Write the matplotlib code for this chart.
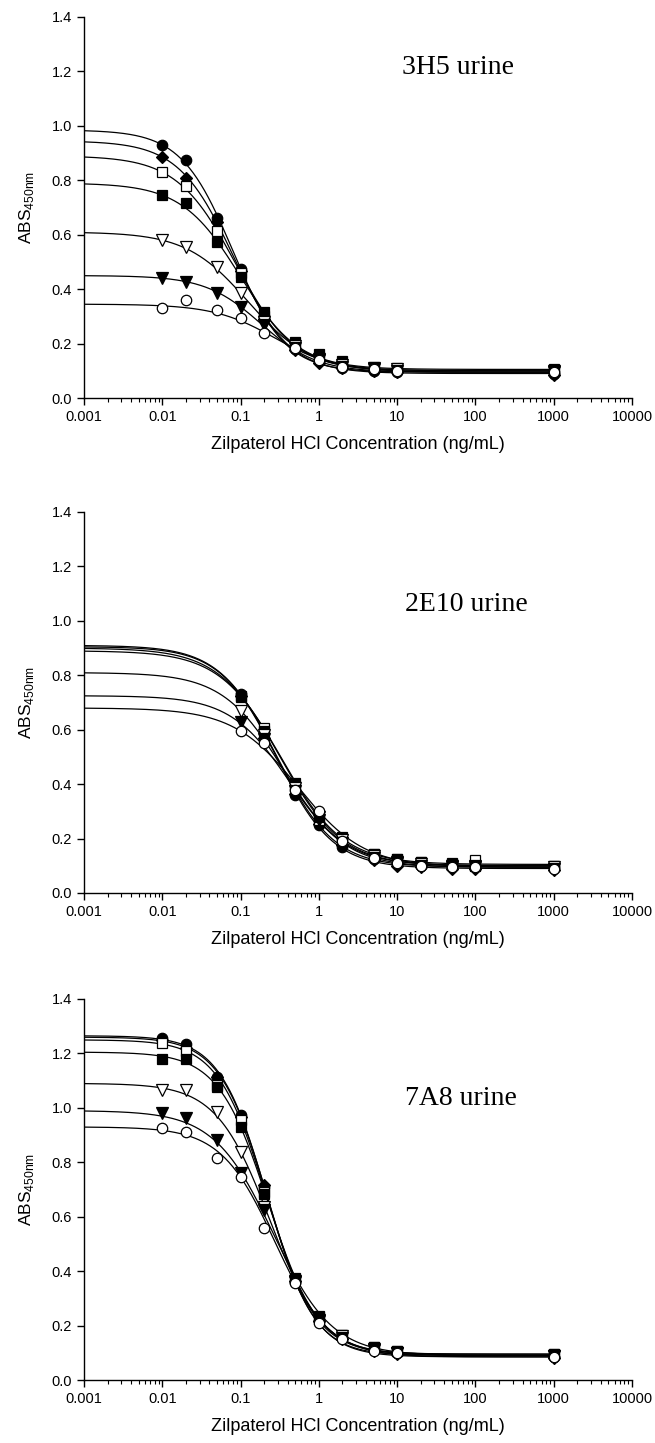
import numpy as np
import matplotlib
matplotlib.use("Agg")
import matplotlib.pyplot as plt
from matplotlib.ticker import FixedLocator, FixedFormatter, LogLocator, NullFormatter

# ---------------- data ----------------
conc_3h5 = [0.01, 0.02, 0.05, 0.1, 0.2, 0.5, 1, 2, 5, 10, 1000]
conc_2e10 = [0.1, 0.2, 0.5, 1, 2, 5, 10, 20, 50, 100, 1000]
conc_7a8 = [0.01, 0.02, 0.05, 0.1, 0.2, 0.5, 1, 2, 5, 10, 1000]

# series order: filled circle, filled diamond, open square, filled square,
#               open triangle, filled triangle, open circle
abs_3h5 = [
    [0.93, 0.875, 0.66, 0.475, 0.30, 0.18, 0.135, 0.11, 0.10, 0.095, 0.09],
    [0.885, 0.81, 0.645, 0.465, 0.29, 0.175, 0.13, 0.11, 0.10, 0.095, 0.085],
    [0.83, 0.78, 0.615, 0.46, 0.30, 0.19, 0.15, 0.125, 0.11, 0.105, 0.10],
    [0.745, 0.715, 0.575, 0.445, 0.315, 0.205, 0.16, 0.135, 0.115, 0.11, 0.105],
    [0.58, 0.555, 0.48, 0.385, 0.28, 0.19, 0.145, 0.12, 0.11, 0.105, 0.10],
    [0.44, 0.425, 0.385, 0.335, 0.27, 0.185, 0.14, 0.115, 0.105, 0.10, 0.095],
    [0.33, 0.36, 0.325, 0.295, 0.24, 0.185, 0.14, 0.115, 0.105, 0.10, 0.095],
]
abs_2e10 = [
    [0.73, 0.565, 0.36, 0.25, 0.17, 0.125, 0.105, 0.10, 0.095, 0.095, 0.095],
    [0.725, 0.57, 0.365, 0.255, 0.175, 0.12, 0.10, 0.095, 0.09, 0.09, 0.085],
    [0.72, 0.605, 0.395, 0.27, 0.20, 0.145, 0.125, 0.115, 0.11, 0.12, 0.10],
    [0.725, 0.595, 0.405, 0.28, 0.205, 0.145, 0.125, 0.115, 0.105, 0.10, 0.10],
    [0.67, 0.58, 0.385, 0.28, 0.195, 0.135, 0.115, 0.105, 0.10, 0.10, 0.095],
    [0.63, 0.565, 0.375, 0.27, 0.185, 0.13, 0.11, 0.10, 0.095, 0.095, 0.09],
    [0.595, 0.55, 0.38, 0.30, 0.19, 0.13, 0.11, 0.10, 0.095, 0.095, 0.09],
]
abs_7a8 = [
    [1.255, 1.235, 1.115, 0.975, 0.71, 0.36, 0.215, 0.155, 0.11, 0.10, 0.085],
    [1.25, 1.22, 1.115, 0.965, 0.715, 0.365, 0.215, 0.15, 0.105, 0.095, 0.08],
    [1.24, 1.21, 1.085, 0.955, 0.69, 0.37, 0.23, 0.165, 0.12, 0.105, 0.095],
    [1.18, 1.18, 1.075, 0.93, 0.685, 0.375, 0.235, 0.165, 0.12, 0.105, 0.095],
    [1.066, 1.066, 0.986, 0.839, 0.636, 0.365, 0.22, 0.16, 0.115, 0.10, 0.09],
    [0.98, 0.963, 0.882, 0.762, 0.625, 0.36, 0.215, 0.155, 0.11, 0.10, 0.09],
    [0.926, 0.913, 0.815, 0.745, 0.56, 0.355, 0.21, 0.15, 0.105, 0.10, 0.085],
]

# four-parameter logistic fits: top, bottom, IC50, slope
fit_3h5_top = [0.985, 0.945, 0.89, 0.79, 0.61, 0.45, 0.345]
fit_3h5_bottom = [0.095, 0.09, 0.10, 0.105, 0.10, 0.095, 0.095]
fit_3h5_ic50 = [0.080, 0.082, 0.086, 0.099, 0.124, 0.183, 0.277]
fit_3h5_slope = [1.31, 1.23, 1.16, 1.16, 1.10, 1.22, 1.10]

fit_2e10_top = [0.91, 0.905, 0.89, 0.90, 0.81, 0.725, 0.68]
fit_2e10_bottom = [0.095, 0.09, 0.105, 0.10, 0.10, 0.095, 0.095]
fit_2e10_ic50 = [0.29, 0.29, 0.33, 0.32, 0.35, 0.42, 0.55]
fit_2e10_slope = [1.18, 1.20, 1.10, 1.10, 1.12, 1.15, 1.04]

fit_7a8_top = [1.265, 1.26, 1.25, 1.205, 1.09, 0.99, 0.93]
fit_7a8_bottom = [0.09, 0.085, 0.095, 0.095, 0.09, 0.09, 0.085]
fit_7a8_ic50 = [0.217, 0.22, 0.216, 0.226, 0.235, 0.26, 0.275]
fit_7a8_slope = [1.44, 1.42, 1.39, 1.365, 1.28, 1.15, 1.26]

panel_titles = ["3H5 urine", "2E10 urine", "7A8 urine"]
x_tick_values = [0.001, 0.01, 0.1, 1, 10, 100, 1000, 10000]
x_tick_labels = ["0.001", "0.01", "0.1", "1", "10", "100", "1000", "10000"]
y_tick_values = [0.0, 0.2, 0.4, 0.6, 0.8, 1.0, 1.2, 1.4]

# ---------------- style ----------------
marker_styles = [
    dict(marker="o", mfc="black", ms=7.5),
    dict(marker="D", mfc="black", ms=6.5),
    dict(marker="s", mfc="white", ms=6.5),
    dict(marker="s", mfc="black", ms=6.5),
    dict(marker="v", mfc="white", ms=8),
    dict(marker="v", mfc="black", ms=8),
    dict(marker="o", mfc="white", ms=7.5),
]

plt.rcParams["font.family"] = ["Liberation Sans", "DejaVu Sans"]
plt.rcParams["mathtext.fontset"] = "custom"
plt.rcParams["mathtext.rm"] = "Liberation Sans"

W, H = 655, 1443
fig = plt.figure(figsize=(W / 100, H / 100), dpi=100)

left = 84 / W
width = (632 - 84) / W
panel_px = [(17, 398), (512, 893), (999, 1380)]
title_pos = [(11.5, 1.213), (12.5, 1.06), (12.5, 1.035)]

panels = [
    (conc_3h5, abs_3h5, fit_3h5_top, fit_3h5_bottom, fit_3h5_ic50, fit_3h5_slope),
    (conc_2e10, abs_2e10, fit_2e10_top, fit_2e10_bottom, fit_2e10_ic50, fit_2e10_slope),
    (conc_7a8, abs_7a8, fit_7a8_top, fit_7a8_bottom, fit_7a8_ic50, fit_7a8_slope),
]

xs = np.logspace(-3, 3, 500)

for i, (conc, vals, tops, bots, ic50s, slopes) in enumerate(panels):
    t, b = panel_px[i]
    ax = fig.add_axes([left, 1 - b / H, width, (b - t) / H])
    for top, bot, c50, s in zip(tops, bots, ic50s, slopes):
        ys = bot + (top - bot) / (1 + (xs / c50) ** s)
        ax.plot(xs, ys, color="black", lw=0.9, zorder=2)
    for v, st in zip(vals, marker_styles):
        ax.plot(conc, v, linestyle="none", marker=st["marker"], ms=st["ms"],
                mfc=st["mfc"], mec="black", mew=0.9, zorder=3)

    ax.set_xscale("log")
    ax.set_xlim(0.001, 10000)
    ax.set_ylim(0, 1.4)
    ax.xaxis.set_major_locator(FixedLocator(x_tick_values))
    ax.xaxis.set_major_formatter(FixedFormatter(x_tick_labels))
    ax.xaxis.set_minor_locator(LogLocator(base=10, subs=np.arange(2, 10), numticks=20))
    ax.xaxis.set_minor_formatter(NullFormatter())
    ax.set_yticks(y_tick_values)
    ax.set_yticklabels([f"{v:.1f}" for v in y_tick_values])
    for sp in ("top", "right"):
        ax.spines[sp].set_visible(False)
    for sp in ("left", "bottom"):
        ax.spines[sp].set_linewidth(1.0)
    ax.tick_params(which="major", direction="out", length=5, width=1.0, labelsize=10.5)
    ax.tick_params(which="minor", direction="out", length=3, width=0.8)
    ax.tick_params(axis="y", which="minor", length=0)
    ax.set_xlabel("Zilpaterol HCl Concentration (ng/mL)", fontsize=13, labelpad=9)
    ax.set_ylabel(r"ABS$_{\mathregular{450nm}}$", fontsize=12.5, labelpad=11)
    ax.text(title_pos[i][0], title_pos[i][1], panel_titles[i],
            family=["Liberation Serif", "DejaVu Serif"], fontsize=20,
            ha="left", va="center")

fig.savefig("out.png", dpi=100)
